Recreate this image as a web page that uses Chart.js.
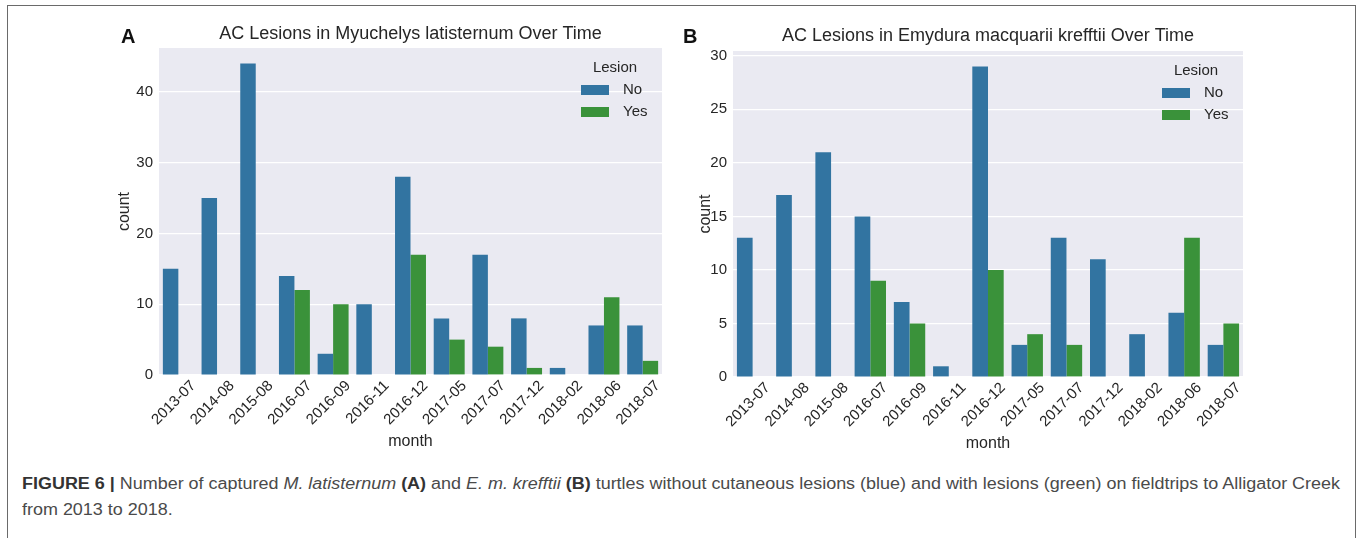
<!DOCTYPE html>
<html>
<head>
<meta charset="utf-8">
<script src="https://cdn.jsdelivr.net/npm/chart.js@4.4.1/dist/chart.umd.min.js"></script>
<style>
  html, body { margin: 0; padding: 0; background: #ffffff; }
  body { width: 1357px; height: 538px; position: relative; overflow: hidden; font-family: "Liberation Sans", Arial, sans-serif; }
  #frame { position: absolute; left: 7px; top: 5px; width: 1349px; height: 600px; border: 1.5px solid #6a6a6a; box-sizing: border-box; }
  canvas { position: absolute; }
  #cA { left: 0; top: 0; }
  #cB { left: 680px; top: 0; }
  .letter { position: absolute; font-weight: bold; font-size: 20px; color: #111; line-height: 1; }
  .cap { position: absolute; left: 22px; white-space: nowrap; font-size: 16px; color: #4a4a4a; line-height: 1; transform-origin: 0 0; }
  .cap b { color: #333; }
</style>
</head>
<body>
<div id="frame"></div>
<canvas id="cA" width="680" height="455" style="width:680px;height:455px"></canvas>
<canvas id="cB" width="677" height="455" style="width:677px;height:455px"></canvas>
<div class="letter" style="left:121px; top:26px;">A</div>
<div class="letter" style="left:683px; top:26px;">B</div>
<div class="cap" id="cap1" style="top:476px;"><b>FIGURE 6 |</b> Number of captured <i>M. latisternum</i> <b>(A)</b> and <i>E. m. krefftii</i> <b>(B)</b> turtles without cutaneous lesions (blue) and with lesions (green) on fieldtrips to Alligator Creek</div>
<div class="cap" id="cap2" style="top:502px;">from 2013 to 2018.</div>
<script>
// ---- data ----
const months = ["2013-07","2014-08","2015-08","2016-07","2016-09","2016-11","2016-12","2017-05","2017-07","2017-12","2018-02","2018-06","2018-07"];
const latisternumNo  = [15, 25, 44, 14, 3, 10, 28, 8, 17, 8, 1, 7, 7];
const latisternumYes = [0, 0, 0, 12, 10, 0, 17, 5, 4, 1, 0, 11, 2];
const krefftiiNo  = [13, 17, 21, 15, 7, 1, 29, 3, 13, 11, 4, 6, 3];
const krefftiiYes = [0, 0, 0, 9, 5, 0, 10, 4, 3, 0, 0, 13, 5];
const yTicksA = [0, 10, 20, 30, 40];
const yTicksB = [0, 5, 10, 15, 20, 25, 30];
const seriesLabels = ["No", "Yes"];
const legendTitle = "Lesion";
const titleA = "AC Lesions in Myuchelys latisternum Over Time";
const titleB = "AC Lesions in Emydura macquarii krefftii Over Time";

const BLUE = "#3274a1", GREEN = "#3a923a", BG = "#eaeaf2", TXT = "#262626";
const FONT = "'Liberation Sans', Arial, sans-serif";

const bgPlugin = {
  id: 'bgPlugin',
  beforeDraw(chart) {
    const {ctx, chartArea: a} = chart;
    ctx.save();
    ctx.fillStyle = BG;
    ctx.fillRect(a.left, a.top, a.right - a.left, a.bottom - a.top);
    ctx.restore();
  }
};

const titleLegendPlugin = {
  id: 'titleLegend',
  afterDraw(chart, args, opts) {
    const {ctx, chartArea: a} = chart;
    ctx.save();
    // title
    ctx.fillStyle = TXT;
    ctx.font = "18px " + FONT;
    ctx.textAlign = 'center';
    ctx.textBaseline = 'middle';
    ctx.fillText(opts.title, (a.left + a.right) / 2, opts.titleY);
    // legend
    ctx.font = "15px " + FONT;
    ctx.fillText(legendTitle, a.right - 47, a.top + 20);
    chart.data.datasets.forEach((ds, i) => {
      const cy = a.top + 42 + i * 22;
      ctx.fillStyle = ds.backgroundColor;
      ctx.fillRect(a.right - 81, cy - 5, 28, 10);
      ctx.fillStyle = TXT;
      ctx.textAlign = 'left';
      ctx.fillText(ds.label, a.right - 39, cy);
    });
    ctx.restore();
  }
};

function makeChart(id, noVals, yesVals, yMax, yTicks, cfg) {
  return new Chart(document.getElementById(id), {
    type: 'bar',
    data: {
      labels: months,
      datasets: [
        { label: seriesLabels[0], data: noVals, backgroundColor: BLUE, borderWidth: 0 },
        { label: seriesLabels[1], data: yesVals, backgroundColor: GREEN, borderWidth: 0 }
      ]
    },
    options: {
      responsive: false,
      animation: false,
      events: [],
      layout: { padding: { left: 0, right: cfg.padRight, top: cfg.top, bottom: 0 } },
      datasets: { bar: { categoryPercentage: 0.8, barPercentage: 1.0 } },
      plugins: {
        legend: { display: false },
        title: { display: false },
        tooltip: { enabled: false },
        titleLegend: { title: cfg.title, titleY: cfg.titleY }
      },
      scales: {
        x: {
          offset: true,
          grid: { display: false, drawTicks: false },
          border: { display: false },
          ticks: {
            autoSkip: false, minRotation: 45, maxRotation: 45,
            color: TXT, font: { family: FONT, size: 15 },
            padding: 2, labelOffset: 15
          },
          title: { display: true, text: 'month', color: TXT, font: { family: FONT, size: 16 }, padding: { top: 0, bottom: cfg.xTitlePad } },
          afterFit(scale) { scale.height = cfg.xH; }
        },
        y: {
          min: 0, max: yMax,
          grid: { color: '#ffffff', lineWidth: 1.2, drawTicks: false },
          border: { display: false },
          ticks: {
            includeBounds: false, color: TXT, font: { family: FONT, size: 15 }, padding: 6
          },
          afterBuildTicks(scale) { scale.ticks = yTicks.map(v => ({ value: v })); },
          title: { display: true, text: 'count', color: TXT, font: { family: FONT, size: 16 }, padding: { top: cfg.yTitlePad, bottom: 0 } },
          afterFit(scale) { scale.width = cfg.yW; }
        }
      }
    },
    plugins: [bgPlugin, titleLegendPlugin]
  });
}

makeChart('cA', latisternumNo, latisternumYes, 44 * 1.05, yTicksA,
  { padRight: 18, top: 48, xH: 80, yW: 159, yTitlePad: 115, xTitlePad: 4, title: titleA, titleY: 34 });
makeChart('cB', krefftiiNo, krefftiiYes, 29 * 1.05, yTicksB,
  { padRight: 114, top: 51, xH: 78, yW: 53, yTitlePad: 16, xTitlePad: 1.5, title: titleB, titleY: 36 });

// fit caption line width to the reference
(function () {
  const c1 = document.getElementById('cap1');
  const w = c1.getBoundingClientRect().width;
  const s = 1318 / w;
  c1.style.transform = 'scaleX(' + s + ')';
  document.getElementById('cap2').style.transform = 'scaleX(' + s + ')';
})();
</script>
</body>
</html>
